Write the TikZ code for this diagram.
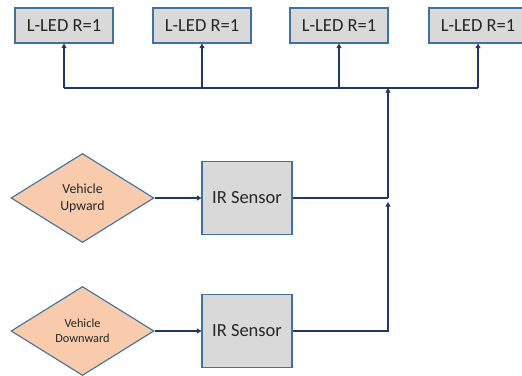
\documentclass[tikz,border=0pt]{standalone}
\usepackage{fontspec}
\setmainfont{Carlito}
\usetikzlibrary{arrows.meta}
\usetikzlibrary{shapes.geometric,positioning}
\definecolor{boxline}{HTML}{41719C}
\definecolor{wireblue}{HTML}{203864}
\definecolor{boxgray}{HTML}{D9D9D9}
\definecolor{peach}{HTML}{F8CBAD}
\definecolor{txt}{HTML}{262626}

\begin{document}
\begin{tikzpicture}[x=1pt,y=-1pt]
\useasboundingbox (0,0) rectangle (522,375);
\begin{scope}[every node/.style={draw=boxline,fill=boxgray,line width=1.1pt,minimum width=98pt,minimum height=35pt,text=txt,font=\fontsize{18.5}{20}\selectfont}]
    \node (led1) at (64,25.5) {L-LED R=1};
    \node (led2) at (202,25.5) {L-LED R=1};
    \node (led3) at (339,25.5) {L-LED R=1};
    \node (led4) at (478,25.5) {L-LED R=1};
\end{scope}
\begin{scope}[every node/.style={draw=boxline,fill=boxgray,line width=1.1pt,minimum width=90pt,minimum height=73pt,text=txt,font=\fontsize{18.5}{20}\selectfont}]
    \node (irup) at (247,198) {IR Sensor};
    \node (irdown) at (247,331) {IR Sensor};
\end{scope}
\begin{scope}[every node/.style={diamond,draw=boxline,fill=peach,line width=1.1pt,inner sep=0pt,minimum width=143pt,minimum height=89pt,text=txt,align=center}]
    \node[font=\fontsize{13.8}{17}\selectfont] (vup) at (82.5,198) {Vehicle\\Upward};
    \node[font=\fontsize{12.3}{14.7}\selectfont] (vdown) at (82.5,331) {Vehicle\\Downward};
\end{scope}
\coordinate (bus) at (388,88);
\coordinate (join) at (388,198);
\coordinate (joinlow) at (388,202);
\begin{scope}[>={Triangle[width=5pt,length=4.5pt]},
              every path/.style={draw=wireblue,line width=1.3pt}]
    \draw [->] (vup) -- (irup);
    \draw [->] (vdown) -- (irdown);
    \draw (irup.east) -- (join);
    \draw [->] (irdown.east) -| (joinlow);
    \draw [->] (join) -- (bus);
    \draw (led1.south |- bus) -- (led4.south |- bus);
    \foreach \i in {1,...,4}
        \draw [->] (led\i.south |- bus) -- (led\i.south);
\end{scope}
\end{tikzpicture}
\end{document}
